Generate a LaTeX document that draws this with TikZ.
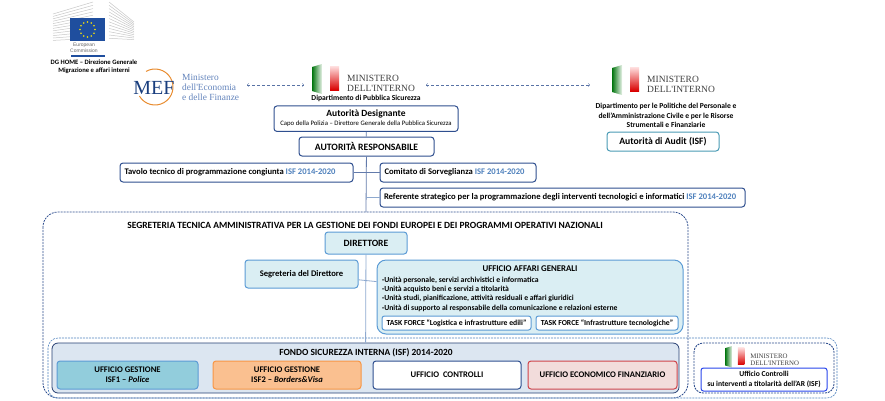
\documentclass[tikz,border=0pt]{standalone}
\usepackage{fontspec}
\setmainfont{Carlito}
\newfontfamily\logofont{Liberation Serif}
\newfontfamily\ecfont{Liberation Sans}
\definecolor{navy}{HTML}{2F4F8F}
\definecolor{isfblue}{HTML}{4F81BD}
\definecolor{skyline}{HTML}{5B9BD5}
\definecolor{skyfill}{HTML}{DAEEF3}
\definecolor{tealline}{HTML}{4A9BB5}
\definecolor{connline}{HTML}{8EA9CF}
\definecolor{fondofill}{HTML}{DCE6F1}
\definecolor{policefill}{HTML}{92CDDC}
\definecolor{borderfill}{HTML}{FAC090}
\definecolor{borderline}{HTML}{F79646}
\definecolor{ecofill}{HTML}{F2DCDB}
\definecolor{ecoline}{HTML}{D0444A}
\definecolor{eublue}{HTML}{1F4E9E}
\tikzset{
  boxnavy/.style={draw=navy,line width=1pt,rounded corners=3pt,fill=white,inner sep=0pt,align=flush center},
  boxsky/.style={draw=skyline,line width=1pt,rounded corners=3pt,fill=skyfill,inner sep=0pt,align=flush center},
  boxtask/.style={draw=skyline,line width=1pt,rounded corners=2.5pt,fill=white,inner sep=0pt,align=flush center},
  plaintext/.style={inner sep=0pt,align=flush center},
  ministerologo/.pic={
    \shade[left color=green!45!black!90!teal,right color=green!45!black!8] (0,3) -- (10,0) -- (10,30) -- (0,27) -- cycle;
    \shade[top color=red!12,bottom color=red!85!black] (18,2) -- (27,2) -- (27,26) -- (18,26) -- cycle;
    \node[anchor=west,inner sep=0pt,text=black!75,font=\logofont\fontsize{9.5}{10}\selectfont] (-top) at (35,14) {MINISTERO};
    \node[anchor=west,inner sep=0pt,text=black!75,font=\logofont\fontsize{9.5}{10}\selectfont] (-bot) at (35,24) {DELL'INTERNO};
  }
}
\newcommand{\isfyears}{\textcolor{isfblue}{ISF 2014-2020}}
\begin{document}
\begin{tikzpicture}[x=1pt,y=-1pt,every node/.append style={font=\bfseries\fontsize{8.6}{10}\selectfont}]

  \useasboundingbox (0,0) rectangle (885,400);

  % European Commission logo
  \foreach \k in {0,...,11} {
    \draw[black!22,line width=.5pt] (53,14+\k*2.4) -- (93,2+\k*3.3);
    \draw[black!22,line width=.5pt] (109,2+\k*3.3) -- (134,22+\k*1.6);
  }
  \fill[eublue] (70,18) rectangle (105,41);
  \foreach \a in {0,30,...,330}
    \fill[yellow!90!orange] (87.5,29.5) ++(\a:7.5) circle (.9);
  \fill[eublue] (71,55) rectangle (105,57);

  \node[plaintext,text=black!60,font=\ecfont\fontsize{5}{6}\selectfont] (eclabel) at (84,48) {European\\Commission};
  \node[plaintext,font=\bfseries\fontsize{6.65}{7.6}\selectfont] (dghome) at (94,66.5) {DG HOME -- Direzione Generale\\Migrazione e affari interni};

  % MEF logo
  \draw[orange!60!brown!90,line width=1pt] (155,87) ++(150:18) arc (150:-120:18);
  \node[plaintext,text=eublue!80!black,font=\logofont\fontsize{20}{20}\selectfont] (meflogo) at (154,88) {MEF};
  \node[plaintext,anchor=west,text=eublue!70,font=\logofont\fontsize{9.4}{10}\selectfont,align=flush left] (mefname) at (182,87) {Ministero\\dell'Economia\\e delle Finanze};

  % ministry logos
  \pic (logops) at (312,64) {ministerologo};
  \pic (logoaudit) at (612,65) {ministerologo};
  \pic[scale=.72,transform shape] (logocontr) at (725,346) {ministerologo};

  \coordinate (mefend) at (247,85);
  \coordinate (psleft) at (304,85);
  \coordinate (psright) at (426,85);
  \coordinate (auditend) at (590,85);

  \node[plaintext,font=\bfseries\fontsize{7.6}{9}\selectfont] (dipps) at (366,98.5) {Dipartimento di Pubblica Sicurezza};
  \node[plaintext,font=\bfseries\fontsize{7.6}{9.6}\selectfont] (dipaudit) at (666,115.5) {Dipartimento per le Politiche del Personale e\\dell'Amministrazione Civile e per le Risorse\\Strumentali e Finanziarie};

  % containers
  \draw[navy,line width=.8pt,dash pattern=on 2pt off 1pt,rounded corners=15pt] (43,212) rectangle (688,398);
  \draw[isfblue,line width=.6pt,dash pattern=on 2pt off 1pt,rounded corners=10pt,fill=none] (48,338) rectangle (837,398);
  \draw[navy,line width=.9pt,dash pattern=on 2pt off 1pt,rounded corners=9pt] (694,343) rectangle (834,393);

  % upper boxes
  \node[boxnavy,minimum width=184pt,minimum height=25.5pt] (designante) at (366,118.7) {};
  \node[plaintext,font=\bfseries\fontsize{9.5}{10}\selectfont] (desigtitle) at (366,114) {Autorità Designante};
  \node[plaintext,font=\fontsize{6.75}{8}\selectfont] (desigsub) at (366,124) {Capo della Polizia -- Direttore Generale della Pubblica Sicurezza};
  \node[boxnavy,minimum width=135pt,minimum height=19pt,font=\bfseries\fontsize{9.7}{10}\selectfont] (responsabile) at (366.5,146.5) {AUTORITÀ RESPONSABILE};
  \node[boxnavy,draw=tealline,minimum width=112pt,minimum height=19pt,font=\bfseries\fontsize{9.7}{10}\selectfont] (audit) at (663,141.5) {Autorità di Audit (ISF)};

  \node[boxnavy,text width=224pt,align=flush left,inner xsep=4.5pt,minimum height=19pt] (tavolo) at (236.5,172.5) {Tavolo tecnico di programmazione congiunta \isfyears};
  \node[boxnavy,text width=147pt,align=flush left,inner xsep=4.5pt,minimum height=19pt] (comitato) at (458,172.5) {Comitato di Sorveglianza \isfyears};
  \node[boxnavy,text width=357pt,align=flush left,inner xsep=4pt,minimum height=19pt] (referente) at (562.5,197.5) {Referente strategico per la programmazione degli interventi tecnologici e informatici \isfyears};

  \coordinate (reftee) at (366,197.5);
  \coordinate (segtop) at (366,212);

  % segreteria
  \node[plaintext,font=\bfseries\fontsize{9.5}{10}\selectfont] (segtitle) at (365,225) {SEGRETERIA TECNICA AMMINISTRATIVA PER LA GESTIONE DEI FONDI EUROPEI E DEI PROGRAMMI OPERATIVI NAZIONALI};
  \node[boxsky,minimum width=82pt,minimum height=22pt,font=\bfseries\fontsize{9.6}{10}\selectfont] (direttore) at (366,243) {DIRETTORE};
  \node[boxsky,minimum width=113pt,minimum height=28pt] (segdir) at (301.5,274) {Segreteria del Direttore};
  \node[boxsky,rounded corners=9pt,minimum width=306pt,minimum height=74pt] (affari) at (530,297) {};
  \node[plaintext,font=\bfseries\fontsize{8.8}{10}\selectfont] (affarititle) at (530,269) {UFFICIO AFFARI GENERALI};
  \node[plaintext,anchor=north west,align=flush left,font=\bfseries\fontsize{7.7}{9.4}\selectfont] (unita) at (382,276.5) {·Unità personale, servizi archivistici e informatica\\·Unità acquisto beni e servizi a titolarità\\·Unità studi, pianificazione, attività residuali e affari giuridici\\·Unità di supporto al responsabile della comunicazione e relazioni esterne};
  \node[boxtask,minimum width=149pt,minimum height=14pt,font=\bfseries\fontsize{7.7}{9}\selectfont] (tasklog) at (456.5,323) {TASK FORCE ``Logistica e infrastrutture edili''};
  \node[boxtask,minimum width=142pt,minimum height=14pt,font=\bfseries\fontsize{7.7}{9}\selectfont] (taskinf) at (607,323) {TASK FORCE ``Infrastrutture tecnologiche''};

  % fondo sicurezza interna
  \node[draw=navy!80!black,line width=.8pt,rounded corners=6pt,fill=fondofill,minimum width=627pt,minimum height=50pt,inner sep=0pt] (fondo) at (365.5,368) {};
  \node[plaintext,font=\bfseries\fontsize{9.4}{10}\selectfont] (fondotitle) at (366,353) {FONDO SICUREZZA INTERNA (ISF) 2014-2020};
  \begin{scope}[every node/.append style={minimum height=28pt,font=\bfseries\fontsize{8.6}{10}\selectfont}]
    \node[boxsky,draw=skyline,fill=policefill,minimum width=141pt] (police) at (127.5,375) {UFFICIO GESTIONE\\ISF1 -- \textit{Police}};
    \node[boxsky,draw=borderline,fill=borderfill,minimum width=148pt] (borders) at (287,375) {UFFICIO GESTIONE\\ISF2 -- \textit{Borders\&Visa}};
    \node[boxnavy,minimum width=148pt] (controlli) at (447,375) {UFFICIO\ \ CONTROLLI};
    \node[boxsky,draw=ecoline,fill=ecofill,minimum width=149pt] (economico) at (602.5,375) {UFFICIO ECONOMICO FINANZIARIO};
  \end{scope}
  \node[boxtask,draw=blue!55!skyline,minimum width=126pt,minimum height=23pt,font=\bfseries\fontsize{7.6}{9.4}\selectfont] (contrar) at (764,379.5) {Ufficio Controlli\\su interventi a titolarità dell'AR (ISF)};

  % connectors
  \begin{scope}[every edge/.style={draw,navy!75,line width=.8pt}]
    \path (designante) edge (responsabile);
    \path (responsabile) edge (segtop);
    \path (tavolo) edge (comitato);
    \path (reftee) edge[connline] (referente);
  \end{scope}

  \begin{scope}[every edge/.style={draw,connline,line width=.8pt}]
    \path (segdir) edge (affari);
    \path (direttore) edge (fondo);
  \end{scope}

  \begin{scope}[every edge/.style={draw,navy!80,densely dashed,line width=.4pt,<->,>=to}]
    \path (mefend) edge (psleft);
    \path (psright) edge (auditend);
  \end{scope}

\end{tikzpicture}
\end{document}
